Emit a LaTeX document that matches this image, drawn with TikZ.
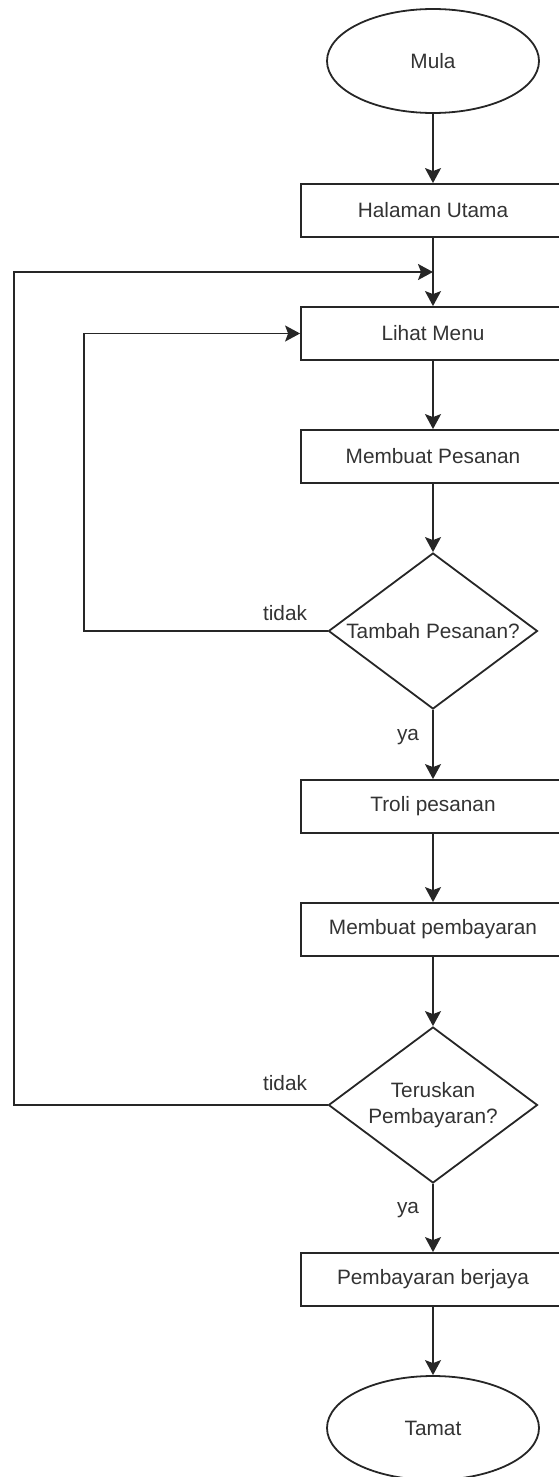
\documentclass[tikz,border=0pt]{standalone}
\usepackage{fontspec}
\setmainfont{Liberation Sans}
\usetikzlibrary{shapes.geometric,arrows.meta}

\begin{document}
\begin{tikzpicture}[x=1pt,y=-1pt,
  every node/.style={font=\fontsize{20.8}{26}\selectfont, text=black!80},
  line/.style={line width=1.8pt, draw=black!85},
  flow/.style={line, -{Stealth[length=15pt,width=16pt,inset=3pt]}},
  proc/.style={line, rectangle, minimum width=264pt, minimum height=53pt, inner sep=0pt},
  term/.style={line, ellipse, minimum width=212pt, minimum height=104pt, inner sep=0pt},
  dec/.style={line, diamond, aspect=1.34, minimum width=209pt, minimum height=156pt, inner sep=0pt, align=center}]
  \useasboundingbox (0,0) rectangle (558,1477);

  \node[term] (mula) at (433,61) {Mula};
  \node[proc] (utama) at (433,210.5) {Halaman Utama};
  \node[proc] (menu) at (433,333.5) {Lihat Menu};
  \node[proc] (pesan) at (433,456.5) {Membuat Pesanan};
  \node[dec] (tambah) at (433,631) {Tambah Pesanan?};
  \node[proc] (troli) at (433,806.5) {Troli pesanan};
  \node[proc] (bayar) at (433,929.5) {Membuat pembayaran};
  \node[dec] (terus) at (433,1105) {Teruskan\\Pembayaran?};
  \node[proc] (berjaya) at (433,1279.5) {Pembayaran berjaya};
  \node[term] (tamat) at (433,1428) {Tamat};

  \coordinate (balik) at (433,272);

  \draw[flow] (mula) -- (utama);
  \draw[flow] (utama) -- (menu);
  \draw[flow] (menu) -- (pesan);
  \draw[flow] (pesan) -- (tambah);
  \draw[flow] (tambah) -- (troli);
  \draw[flow] (troli) -- (bayar);
  \draw[flow] (bayar) -- (terus);
  \draw[flow] (terus) -- (berjaya);
  \draw[flow] (berjaya) -- (tamat);

  \draw[flow] (tambah.west) -- (84,631) |- (menu.west);
  \draw[flow] (terus.west) -- (14,1105) |- (balik);

  \node (tidak1) at (285,613) {tidak};
  \node (ya1) at (408,737) {ya};
  \node (tidak2) at (285,1083) {tidak};
  \node (ya2) at (408,1210) {ya};
\end{tikzpicture}
\end{document}
